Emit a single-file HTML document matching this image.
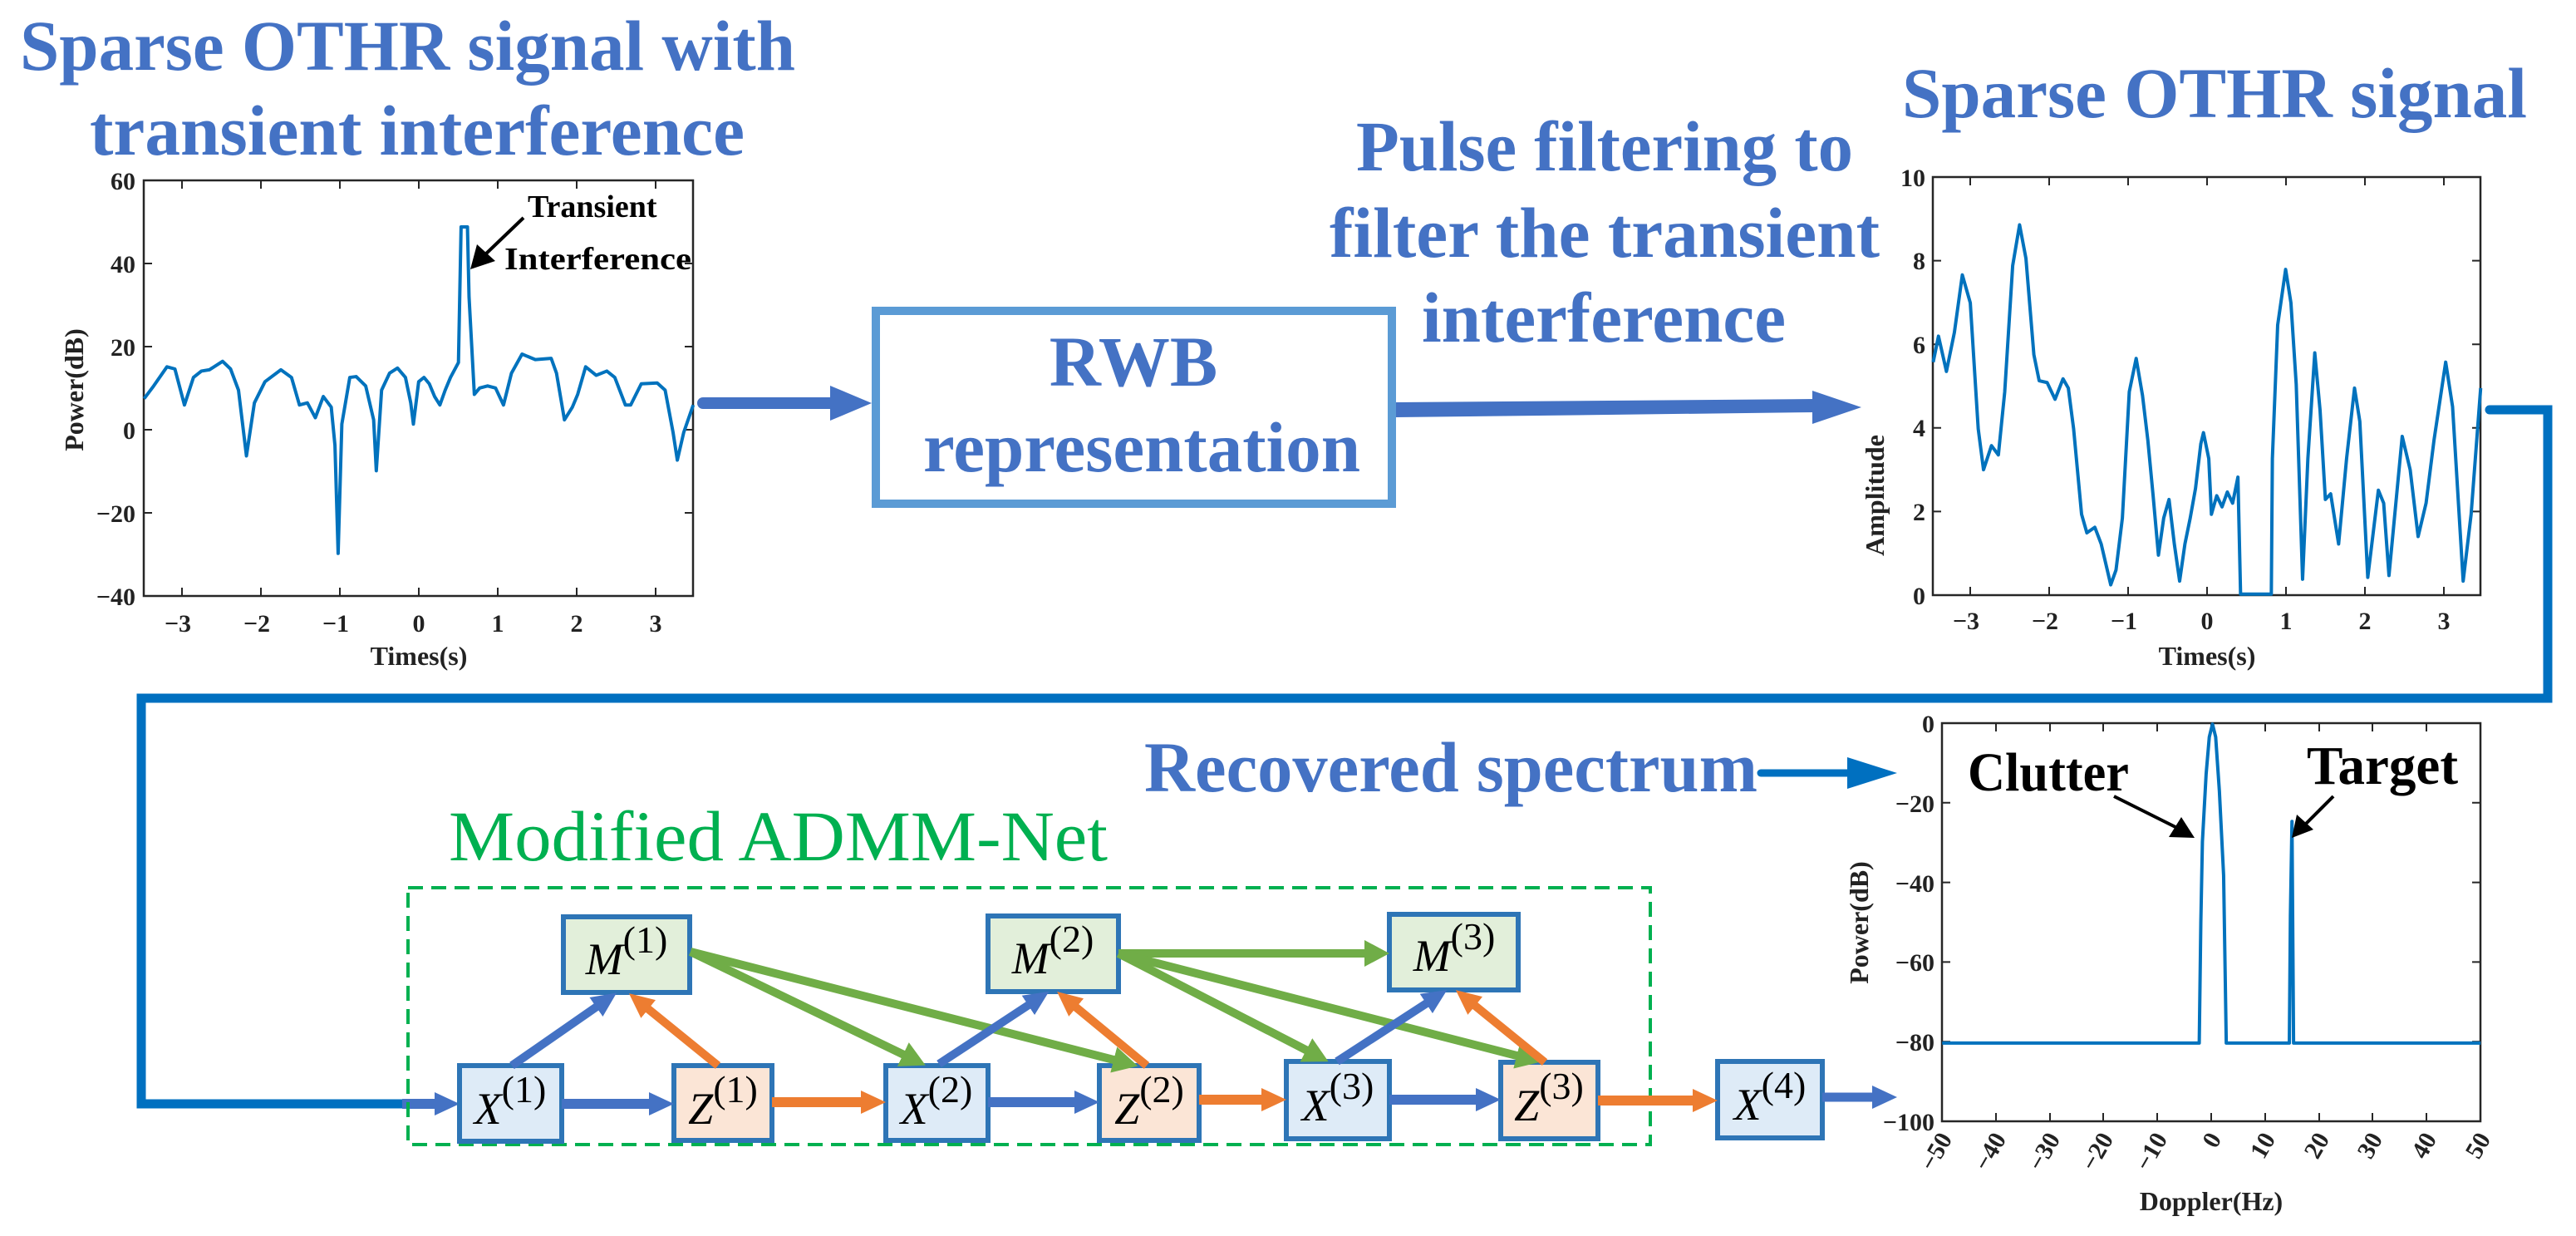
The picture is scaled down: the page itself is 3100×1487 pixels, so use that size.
<!DOCTYPE html>
<html><head><meta charset="utf-8"><style>
html,body{margin:0;padding:0;background:#fff}
svg{display:block}
text{font-family:"Liberation Serif",serif}
.t{font-weight:bold;fill:#4472c4;font-size:86px}
.tk{font-weight:bold;fill:#222;font-size:30px}
.lb{font-weight:bold;fill:#222;font-size:32px}
.bx{font-size:54px;fill:#000}
</style></head><body>
<svg width="3100" height="1487" viewBox="0 0 3100 1487" xmlns="http://www.w3.org/2000/svg">
<defs>
<marker id="mb" markerUnits="userSpaceOnUse" markerWidth="40" markerHeight="40" refX="8" refY="14" orient="auto"><path d="M0,0 L30,14 L0,28 z" fill="#4472c4"/></marker>
<marker id="mo" markerUnits="userSpaceOnUse" markerWidth="40" markerHeight="40" refX="8" refY="14" orient="auto"><path d="M0,0 L30,14 L0,28 z" fill="#ed7d31"/></marker>
<marker id="mg" markerUnits="userSpaceOnUse" markerWidth="40" markerHeight="40" refX="8" refY="16" orient="auto"><path d="M0,0 L30,16 L0,32 z" fill="#70ad47"/></marker>
</defs>

<text class="t" x="24" y="84" textLength="933" lengthAdjust="spacingAndGlyphs">Sparse OTHR signal with</text>
<text class="t" x="108" y="186" textLength="788" lengthAdjust="spacingAndGlyphs">transient interference</text>
<text class="t" x="2289" y="141" textLength="752" lengthAdjust="spacingAndGlyphs">Sparse OTHR signal</text>
<text class="t" x="1632" y="205" textLength="598" lengthAdjust="spacingAndGlyphs">Pulse filtering to</text>
<text class="t" x="1600" y="309" textLength="662" lengthAdjust="spacingAndGlyphs">filter the transient</text>
<text class="t" x="1711" y="411" textLength="438" lengthAdjust="spacingAndGlyphs">interference</text>
<text class="t" x="1377" y="952" textLength="738" lengthAdjust="spacingAndGlyphs">Recovered spectrum</text>
<text x="540" y="1035" font-size="86" fill="#00b050" textLength="793" lengthAdjust="spacingAndGlyphs">Modified ADMM-Net</text>

<rect x="1054" y="374" width="621" height="232" fill="#fff" stroke="#5b9bd5" stroke-width="10"/>
<text class="t" x="1364" y="464" text-anchor="middle">RWB</text>
<text class="t" x="1374" y="567" text-anchor="middle" textLength="526" lengthAdjust="spacingAndGlyphs">representation</text>

<line x1="846" y1="485" x2="1005" y2="485" stroke="#4472c4" stroke-width="14" stroke-linecap="round"/>
<polygon points="999,464 1049,485 999,506" fill="#4472c4"/>
<polygon points="1680,484 2185,480 2185,496 1680,502" fill="#4472c4"/>
<polygon points="2181,470 2240,490 2181,510" fill="#4472c4"/>

<g>
<rect x="173" y="217" width="661" height="500" fill="none" stroke="#262626" stroke-width="2.5"/>
<g stroke="#262626" stroke-width="2">
<path d="M219,217v10M314,217v10M409,217v10M504,217v10M599,217v10M694,217v10M789,217v10M219,717v-10M314,717v-10M409,717v-10M504,717v-10M599,717v-10M694,717v-10M789,717v-10"/>
<path d="M173,317h10M173,417h10M173,517h10M173,617h10M834,317h-10M834,417h-10M834,517h-10M834,617h-10"/>
</g>
<g text-anchor="end">
<text x="163" y="228" class="tk">60</text><text x="163" y="328" class="tk">40</text><text x="163" y="428" class="tk">20</text><text x="163" y="528" class="tk">0</text><text x="163" y="628" class="tk">−20</text><text x="163" y="728" class="tk">−40</text>
</g>
<g text-anchor="middle">
<text x="214" y="760" class="tk">−3</text><text x="309" y="760" class="tk">−2</text><text x="404" y="760" class="tk">−1</text><text x="504" y="760" class="tk">0</text><text x="599" y="760" class="tk">1</text><text x="694" y="760" class="tk">2</text><text x="789" y="760" class="tk">3</text>
<text x="504" y="800" class="lb">Times(s)</text>
<text class="lb" transform="translate(100,469) rotate(-90)">Power(dB)</text>
</g>
<polyline transform="scale(0.6378,0.5102)" vector-effect="non-scaling-stroke" fill="none" stroke="#0072bd" stroke-width="4" stroke-linejoin="round" points="272,940 290,910 315,865 330,870 348,955 365,890 380,875 395,872 420,852 435,870 450,920 465,1075 480,950 500,900 530,872 550,890 565,955 580,950 595,985 610,935 625,960 632,1050 638,1305 645,1000 660,890 672,888 690,910 705,990 710,1110 720,920 735,880 750,868 765,890 775,950 780,1000 790,900 800,890 810,905 820,935 830,955 840,920 850,890 865,855 870,535 882,535 885,700 895,930 905,915 920,910 935,915 950,955 965,880 985,835 1010,848 1040,845 1050,880 1065,990 1080,960 1090,930 1105,865 1125,885 1145,875 1160,890 1180,955 1190,955 1210,905 1240,903 1255,920 1270,1020 1278,1085 1290,1020 1308,955"/>
<text x="635" y="261" font-size="38" font-weight="bold" fill="#000">Transient</text>
<text x="607" y="324" font-size="38" font-weight="bold" fill="#000" textLength="225" lengthAdjust="spacingAndGlyphs">Interference</text>
<line x1="630" y1="262" x2="582" y2="308" stroke="#000" stroke-width="4"/>
<polygon points="566,324 574,294 596,314" fill="#000"/>
</g>

<g>
<rect x="2326" y="213" width="659" height="503" fill="none" stroke="#262626" stroke-width="2.5"/>
<g stroke="#262626" stroke-width="2">
<path d="M2371,213v10M2466,213v10M2561,213v10M2656,213v10M2751,213v10M2846,213v10M2941,213v10M2371,716v-10M2466,716v-10M2561,716v-10M2656,716v-10M2751,716v-10M2846,716v-10M2941,716v-10"/>
<path d="M2326,313.6h10M2326,414.2h10M2326,514.8h10M2326,615.4h10M2985,313.6h-10M2985,414.2h-10M2985,514.8h-10M2985,615.4h-10"/>
</g>
<g text-anchor="end">
<text x="2317" y="224" class="tk">10</text><text x="2317" y="324" class="tk">8</text><text x="2317" y="425" class="tk">6</text><text x="2317" y="525" class="tk">4</text><text x="2317" y="626" class="tk">2</text><text x="2317" y="727" class="tk">0</text>
</g>
<g text-anchor="middle">
<text x="2366" y="757" class="tk">−3</text><text x="2461" y="757" class="tk">−2</text><text x="2556" y="757" class="tk">−1</text><text x="2656" y="757" class="tk">0</text><text x="2751" y="757" class="tk">1</text><text x="2846" y="757" class="tk">2</text><text x="2941" y="757" class="tk">3</text>
<text x="2656" y="800" class="lb">Times(s)</text>
<text class="lb" transform="translate(2267,596) rotate(-90)">Amplitude</text>
</g>
<polyline transform="translate(2100,150) scale(0.6378,0.4464)" vector-effect="non-scaling-stroke" fill="none" stroke="#0072bd" stroke-width="4" stroke-linejoin="round" points="355,640 365,570 380,665 395,560 410,405 425,480 440,820 450,930 465,865 478,890 490,720 505,380 518,270 530,360 545,620 555,690 570,695 585,740 600,685 610,710 620,820 635,1050 645,1100 660,1085 672,1130 690,1240 700,1200 712,1060 725,720 738,630 750,730 760,850 770,1000 780,1160 790,1060 800,1010 810,1130 820,1230 830,1130 840,1060 850,980 860,860 865,830 875,900 880,1050 890,1000 900,1030 910,990 920,1020 930,950 935,1265 993,1265 995,900 1005,540 1020,390 1030,480 1040,700 1052,1225 1062,900 1075,615 1085,770 1095,1010 1105,995 1120,1130 1135,900 1150,710 1160,800 1175,1220 1195,985 1205,1020 1215,1215 1240,840 1255,930 1270,1110 1285,1020 1300,850 1322,640 1335,760 1355,1230 1370,1050 1388,710"/>
</g>

<polyline points="2996,493 3066,493 3066,840 170,840 170,1328 484,1328" fill="none" stroke="#0070c0" stroke-width="11" stroke-linecap="round" stroke-linejoin="miter"/>
<line x1="484" y1="1328" x2="531" y2="1328" stroke="#4472c4" stroke-width="12" marker-end="url(#mb)"/>

<g>
<rect x="2337" y="870" width="648" height="479" fill="none" stroke="#262626" stroke-width="2.5"/>
<g stroke="#262626" stroke-width="2">
<path d="M2402,870v10M2467,870v10M2531,870v10M2596,870v10M2661,870v10M2726,870v10M2791,870v10M2855,870v10M2920,870v10M2402,1349v-10M2467,1349v-10M2531,1349v-10M2596,1349v-10M2661,1349v-10M2726,1349v-10M2791,1349v-10M2855,1349v-10M2920,1349v-10"/>
<path d="M2337,965.8h10M2337,1061.6h10M2337,1157.4h10M2337,1253.2h10M2985,965.8h-10M2985,1061.6h-10M2985,1157.4h-10M2985,1253.2h-10"/>
</g>
<g text-anchor="end">
<text x="2328" y="881" class="tk">0</text><text x="2328" y="977" class="tk">−20</text><text x="2328" y="1073" class="tk">−40</text><text x="2328" y="1168" class="tk">−60</text><text x="2328" y="1264" class="tk">−80</text><text x="2328" y="1360" class="tk">−100</text>
</g>
<g text-anchor="end">
<text class="tk" transform="translate(2350,1370) rotate(-60)">−50</text>
<text class="tk" transform="translate(2415,1370) rotate(-60)">−40</text>
<text class="tk" transform="translate(2480,1370) rotate(-60)">−30</text>
<text class="tk" transform="translate(2544,1370) rotate(-60)">−20</text>
<text class="tk" transform="translate(2609,1370) rotate(-60)">−10</text>
<text class="tk" transform="translate(2674,1370) rotate(-60)">0</text>
<text class="tk" transform="translate(2739,1370) rotate(-60)">10</text>
<text class="tk" transform="translate(2804,1370) rotate(-60)">20</text>
<text class="tk" transform="translate(2868,1370) rotate(-60)">30</text>
<text class="tk" transform="translate(2933,1370) rotate(-60)">40</text>
<text class="tk" transform="translate(2998,1370) rotate(-60)">50</text>
</g>
<text x="2661" y="1456" class="lb" text-anchor="middle">Doppler(Hz)</text>
<text class="lb" text-anchor="middle" transform="translate(2248,1110) rotate(-90)">Power(dB)</text>
<polyline transform="translate(2100,850) scale(0.6378,0.4065)" vector-effect="non-scaling-stroke" fill="none" stroke="#0072bd" stroke-width="4" stroke-linejoin="round" points="372,996 857,996 860,640 863,400 870,200 876,90 882,52 888,90 895,250 903,500 908,996 1027,996 1029,620 1032,340 1035,996 1388,996"/>
<text x="2368" y="951" font-size="66" font-weight="bold" fill="#000" textLength="194" lengthAdjust="spacingAndGlyphs">Clutter</text>
<text x="2776" y="943" font-size="66" font-weight="bold" fill="#000" textLength="182" lengthAdjust="spacingAndGlyphs">Target</text>
<line x1="2544" y1="958" x2="2620" y2="996" stroke="#000" stroke-width="4"/>
<polygon points="2641,1008 2610,1007 2625,983" fill="#000"/>
<line x1="2808" y1="958" x2="2772" y2="994" stroke="#000" stroke-width="4"/>
<polygon points="2758,1008 2764,980 2784,998" fill="#000"/>
</g>
<line x1="2119" y1="930" x2="2226" y2="930" stroke="#0070c0" stroke-width="9" stroke-linecap="round"/>
<polygon points="2223,911 2283,930 2223,949" fill="#0070c0"/>

<rect x="491" y="1068" width="1495" height="309" fill="none" stroke="#00b050" stroke-width="4" stroke-dasharray="18,10"/>

<g stroke-width="6" stroke="#2e75b6">
<rect x="678" y="1103" width="152" height="91" fill="#e2efda"/>
<rect x="1189" y="1102" width="157" height="91" fill="#e2efda"/>
<rect x="1672" y="1100" width="155" height="91" fill="#e2efda"/>
<rect x="553" y="1282" width="123" height="91" fill="#deebf7"/>
<rect x="811" y="1282" width="118" height="90" fill="#fbe5d6"/>
<rect x="1066" y="1282" width="123" height="90" fill="#deebf7"/>
<rect x="1323" y="1282" width="120" height="90" fill="#fbe5d6"/>
<rect x="1548" y="1277" width="124" height="93" fill="#deebf7"/>
<rect x="1806" y="1278" width="117" height="92" fill="#fbe5d6"/>
<rect x="2067" y="1277" width="126" height="92" fill="#deebf7"/>
</g>

<g text-anchor="middle">
<text class="bx" x="754" y="1172"><tspan font-style="italic">M</tspan><tspan font-size="46" dy="-26">(1)</tspan></text>
<text class="bx" x="1267" y="1171"><tspan font-style="italic">M</tspan><tspan font-size="46" dy="-26">(2)</tspan></text>
<text class="bx" x="1750" y="1168"><tspan font-style="italic">M</tspan><tspan font-size="46" dy="-26">(3)</tspan></text>
<text class="bx" x="614" y="1352"><tspan font-style="italic">X</tspan><tspan font-size="46" dy="-26">(1)</tspan></text>
<text class="bx" x="870" y="1352"><tspan font-style="italic">Z</tspan><tspan font-size="46" dy="-26">(1)</tspan></text>
<text class="bx" x="1127" y="1352"><tspan font-style="italic">X</tspan><tspan font-size="46" dy="-26">(2)</tspan></text>
<text class="bx" x="1383" y="1352"><tspan font-style="italic">Z</tspan><tspan font-size="46" dy="-26">(2)</tspan></text>
<text class="bx" x="1610" y="1348"><tspan font-style="italic">X</tspan><tspan font-size="46" dy="-26">(3)</tspan></text>
<text class="bx" x="1864" y="1348"><tspan font-style="italic">Z</tspan><tspan font-size="46" dy="-26">(3)</tspan></text>
<text class="bx" x="2130" y="1347"><tspan font-style="italic">X</tspan><tspan font-size="46" dy="-26">(4)</tspan></text>
</g>

<line x1="676" y1="1328" x2="789" y2="1328" stroke="#4472c4" stroke-width="12" marker-end="url(#mb)"/>
<line x1="929" y1="1326" x2="1044" y2="1326" stroke="#ed7d31" stroke-width="12" marker-end="url(#mo)"/>
<line x1="1189" y1="1326" x2="1301" y2="1326" stroke="#4472c4" stroke-width="12" marker-end="url(#mb)"/>
<line x1="1443" y1="1323" x2="1526" y2="1323" stroke="#ed7d31" stroke-width="12" marker-end="url(#mo)"/>
<line x1="1672" y1="1323" x2="1784" y2="1323" stroke="#4472c4" stroke-width="12" marker-end="url(#mb)"/>
<line x1="1923" y1="1324" x2="2045" y2="1324" stroke="#ed7d31" stroke-width="12" marker-end="url(#mo)"/>
<line x1="2193" y1="1320" x2="2261" y2="1320" stroke="#4472c4" stroke-width="11" marker-end="url(#mb)"/>

<g stroke-width="10" fill="none">
<line x1="831" y1="1145" x2="1094" y2="1272" stroke="#70ad47" marker-end="url(#mg)"/>
<line x1="831" y1="1145" x2="1348" y2="1277" stroke="#70ad47" marker-end="url(#mg)"/>
<line x1="1346" y1="1147" x2="1650" y2="1147" stroke="#70ad47" marker-end="url(#mg)"/>
<line x1="1346" y1="1147" x2="1579" y2="1267" stroke="#70ad47" marker-end="url(#mg)"/>
<line x1="1346" y1="1147" x2="1833" y2="1272" stroke="#70ad47" marker-end="url(#mg)"/>
<line x1="616" y1="1282" x2="724" y2="1207" stroke="#4472c4" marker-end="url(#mb)"/>
<line x1="864" y1="1282" x2="774" y2="1209" stroke="#ed7d31" marker-end="url(#mo)"/>
<line x1="1130" y1="1280" x2="1244" y2="1205" stroke="#4472c4" marker-end="url(#mb)"/>
<line x1="1380" y1="1282" x2="1289" y2="1207" stroke="#ed7d31" marker-end="url(#mo)"/>
<line x1="1609" y1="1277" x2="1723" y2="1203" stroke="#4472c4" marker-end="url(#mb)"/>
<line x1="1859" y1="1278" x2="1769" y2="1205" stroke="#ed7d31" marker-end="url(#mo)"/>
</g>
</svg>
</body></html>
